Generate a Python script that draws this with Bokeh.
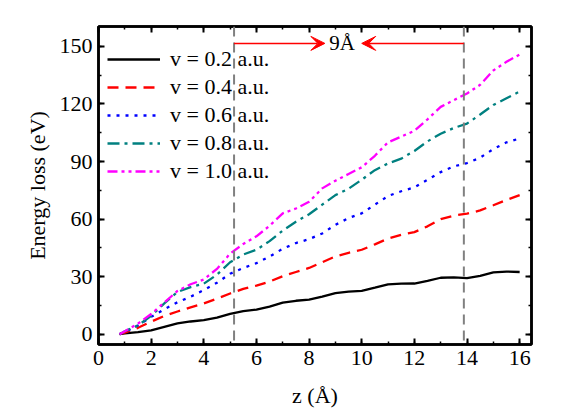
from bokeh.plotting import figure
from bokeh.models import (LinearAxis, Legend, LegendItem, Span, Arrow, VeeHead,
                          FixedTicker, CustomJSTickFormatter)
from bokeh.core.properties import value
from bokeh.embed import file_html
from bokeh.resources import INLINE

# ---------------- data ----------------
z = [0.8, 1.0, 1.5, 2.0, 2.5, 3.0, 3.5, 4.0, 4.5, 5.0, 5.5, 6.0, 6.5, 7.0, 7.5, 8.0,
     8.5, 9.0, 9.5, 10.0, 10.5, 11.0, 11.5, 12.0, 12.5, 13.0, 13.5, 14.0, 14.5, 15.0, 15.5, 16.0]
loss_v02 = [0, 0.4, 1.0, 2.0, 3.8, 5.6, 6.6, 7.3, 8.6, 10.6, 12.0, 12.8, 14.3, 16.4, 17.4, 18.0,
            19.6, 21.4, 22.2, 22.6, 24.2, 25.9, 26.3, 26.4, 27.8, 29.4, 29.6, 29.2, 30.4, 32.2, 32.6, 32.4]
loss_v04 = [0, 0.8, 3.3, 6.5, 9.5, 11.8, 14.0, 16.0, 18.5, 21.2, 23.6, 25.3, 27.4, 30.2, 32.4, 34.5,
            37.5, 40.5, 42.4, 44.0, 46.8, 49.8, 51.8, 53.2, 56.2, 60.0, 61.8, 62.8, 64.5, 67.2, 70.0, 72.5]
loss_v06 = [0, 1.2, 4.5, 9.0, 13.0, 16.6, 19.5, 23.0, 26.8, 31.5, 34.5, 37.0, 40.5, 44.5, 47.5, 49.5,
            52.5, 57.0, 60.5, 63.0, 67.5, 72.0, 74.5, 76.5, 80.5, 84.5, 87.5, 89.2, 92.0, 96.5, 100.0, 102.0]
loss_v08 = [0, 1.5, 4.5, 9.5, 16.0, 22.0, 24.5, 26.3, 31.0, 37.5, 41.5, 44.0, 48.5, 54.0, 58.6, 62.5,
            67.5, 72.5, 75.8, 80.5, 85.5, 89.0, 91.5, 95.5, 100.5, 104.5, 107.5, 109.8, 114.5, 119.5, 123.0, 126.5]
loss_v10 = [0, 1.5, 5.5, 10.5, 16.5, 22.5, 26.0, 28.5, 34.0, 42.0, 47.0, 51.0, 56.5, 63.0, 65.5, 69.0,
            76.0, 80.0, 83.5, 87.0, 93.0, 100.0, 103.0, 106.0, 112.0, 118.5, 122.0, 125.5, 130.0, 137.5, 142.0, 145.8]
series_labels = ["v = 0.2 a.u.", "v = 0.4 a.u.", "v = 0.6 a.u.", "v = 0.8 a.u.", "v = 1.0 a.u."]
x_ticks = [0, 2, 4, 6, 8, 10, 12, 14, 16]
y_ticks = [0, 30, 60, 90, 120, 150]
marker_z = [5.15, 13.88]          # vertical dashed markers
arrow_y = 151.6
arrow_left = [5.15, 8.6]           # start, tip
arrow_right = [13.88, 10.0]        # start, tip
gap_text = ["9Å"]
gap_text_x = [9.25]
gap_text_y = [151.6]

FONT = "Liberation Serif"

p = figure(width=580, height=412, x_range=(0, 16.45), y_range=(-5.4, 160.4),
           output_backend="svg", toolbar_location=None,
           min_border_left=98, min_border_right=49, min_border_top=26, min_border_bottom=68)
p.background_fill_color = "white"
p.border_fill_color = "white"
p.grid.visible = False
p.outline_line_color = "black"
p.outline_line_width = 2.5

def style_axis(ax, show_labels):
    ax.axis_line_width = 2.5
    ax.axis_line_color = "black"
    ax.major_tick_in = 6
    ax.major_tick_out = 0
    ax.minor_tick_in = 3
    ax.minor_tick_out = 0
    ax.major_tick_line_width = 2
    ax.minor_tick_line_width = 1.5
    ax.major_label_text_font = FONT
    ax.major_label_text_font_size = "22px"
    ax.major_label_text_color = "black"
    ax.axis_label_text_font = FONT
    ax.axis_label_text_font_size = "22px"
    ax.axis_label_text_font_style = "normal"
    ax.axis_label_text_color = "black"
    if not show_labels:
        ax.formatter = CustomJSTickFormatter(code="return ''")
        ax.major_label_standoff = 0

p.xaxis.ticker = FixedTicker(ticks=x_ticks, minor_ticks=list(range(0, 17)))
p.yaxis.ticker = FixedTicker(ticks=y_ticks, minor_ticks=list(range(0, 161, 15)))
style_axis(p.xaxis[0], True)
style_axis(p.yaxis[0], True)
p.xaxis.axis_label = "z (Å)"
p.yaxis.axis_label = "Energy loss (eV)"
p.xaxis.major_label_standoff = 6
p.yaxis.major_label_standoff = 6
p.xaxis.axis_label_standoff = 15
p.yaxis.axis_label_standoff = 7

top_ax = LinearAxis(ticker=FixedTicker(ticks=x_ticks, minor_ticks=list(range(0, 17))))
style_axis(top_ax, False)
p.add_layout(top_ax, "above")
right_ax = LinearAxis(ticker=FixedTicker(ticks=y_ticks, minor_ticks=list(range(0, 161, 15))))
style_axis(right_ax, False)
p.add_layout(right_ax, "right")

# vertical dashed marker lines
for zm in marker_z:
    p.add_layout(Span(location=zm, dimension="height", line_color="#808080",
                      line_width=2, line_dash="10 6"))

styles = [
    ("black", "solid"),
    ("#FF0000", "11 7"),
    ("#0000FF", "3 6"),
    ("#008080", "12 5 3 5"),
    ("#FF00FF", "10 4 3 4 3 4"),
]
ys = [loss_v02, loss_v04, loss_v06, loss_v08, loss_v10]
items = []
for (col, dash), yv, lab in zip(styles, ys, series_labels):
    r = p.line(z, yv, line_color=col, line_width=2.3, line_dash=dash)
    items.append(LegendItem(label=lab, renderers=[r]))

legend = Legend(items=items, location=(9, 160), margin=0, padding=4,
                glyph_width=53, glyph_height=24, label_height=24, spacing=2,
                label_standoff=10, label_text_font=FONT, label_text_font_size="22px",
                label_text_color="black",
                background_fill_alpha=0, border_line_color=None)
p.add_layout(legend)

# arrows and 9Å annotation
p.add_layout(Arrow(end=VeeHead(size=14, fill_color="#FF0000", line_color="#FF0000", line_width=1),
                   x_start=arrow_left[0], y_start=arrow_y, x_end=arrow_left[1], y_end=arrow_y,
                   line_color="#FF0000", line_width=1.5))
p.add_layout(Arrow(end=VeeHead(size=14, fill_color="#FF0000", line_color="#FF0000", line_width=1),
                   x_start=arrow_right[0], y_start=arrow_y, x_end=arrow_right[1], y_end=arrow_y,
                   line_color="#FF0000", line_width=1.5))
p.text(x=gap_text_x, y=gap_text_y, text=gap_text, text_font=value(FONT),
       text_font_size="21px", text_align="center", text_baseline="middle", text_color="black")

open("out.html", "w").write(file_html(p, INLINE))
